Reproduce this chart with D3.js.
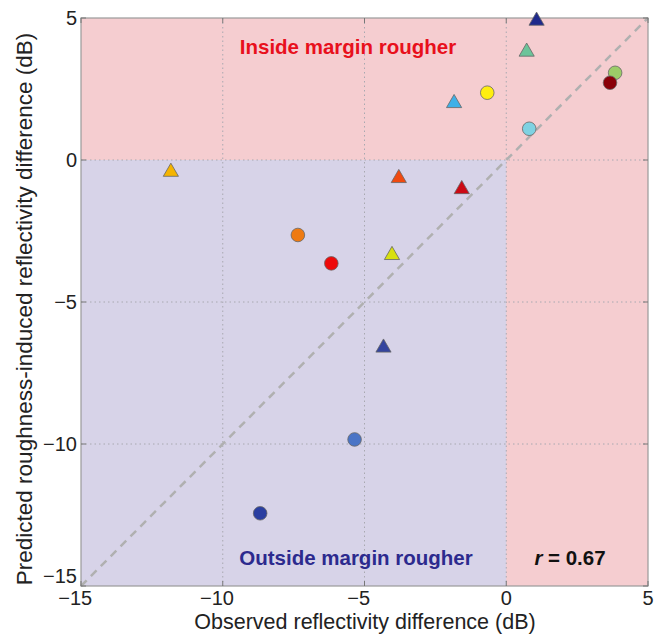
<!DOCTYPE html>
<html><head><meta charset="utf-8">
<script src="https://cdn.jsdelivr.net/npm/d3@7"></script>
<style>
body{margin:0;background:#fff;}
svg text{font-family:"Liberation Sans",Arial,Helvetica,sans-serif;}
</style></head>
<body><svg id="c" width="665" height="634"></svg>
<script>
const xTicks = [-15, -10, -5, 0, 5];
const yTicks = [-15, -10, -5, 0, 5];
const pointX = [-11.83, 1.07, 0.72, -1.84, -0.67, 0.81, 3.84, 3.66, -1.57, -3.79, -4.03, -4.33, -7.35, -6.17, -5.35, -8.68];
const pointY = [-0.42, 4.9, 3.81, 2.0, 2.37, 1.10, 3.07, 2.72, -1.03, -0.64, -3.35, -6.61, -2.64, -3.64, -9.84, -12.44];
const pointShape = ["tri","tri","tri","tri","cir","cir","cir","cir","tri","tri","tri","tri","cir","cir","cir","cir"];
const pointColor = ["#f5b400","#1f2a8c","#6cc49a","#3fb0e8","#ffee10","#7fd2e2","#9ccc68","#8a0008","#cc0a14","#f04a10","#d8e010","#34449e","#ee7a12","#ee0a0a","#4a74c6","#2a3ea0"];

const svg = d3.select("#c");
const L = 81, R = 648, T = 18, B = 586;
const x = d3.scaleLinear().domain([-15, 5]).range([L, R]);
const y = d3.scaleLinear().domain([-15, 5]).range([B, T]);

// background regions
svg.append("rect").attr("x", L).attr("y", T).attr("width", R - L).attr("height", B - T).attr("fill", "#f5cdd0");
svg.append("rect").attr("x", x(-15)).attr("y", y(0)).attr("width", x(0) - x(-15)).attr("height", y(-15) - y(0)).attr("fill", "#d7d3e8");

// grid
const g = svg.append("g");
xTicks.slice(1, -1).forEach(v => {
  g.append("line").attr("x1", x(v)).attr("x2", x(v)).attr("y1", T).attr("y2", B)
    .attr("stroke", "#a8a8b0").attr("stroke-width", 1).attr("stroke-dasharray", "1.5,3");
});
yTicks.slice(1, -1).forEach(v => {
  g.append("line").attr("x1", L).attr("x2", R).attr("y1", y(v)).attr("y2", y(v))
    .attr("stroke", "#a8a8b0").attr("stroke-width", 1).attr("stroke-dasharray", "1.5,3");
});

// diagonal
svg.append("line").attr("x1", x(-15)).attr("y1", y(-15)).attr("x2", x(5)).attr("y2", y(5))
  .attr("stroke", "#b0b0b0").attr("stroke-width", 2.5).attr("stroke-dasharray", "8,6");

// frame
svg.append("rect").attr("x", L).attr("y", T).attr("width", R - L).attr("height", B - T)
  .attr("fill", "none").attr("stroke", "#9a9a9a").attr("stroke-width", 1.2);

// tick marks inward
xTicks.forEach(v => {
  svg.append("line").attr("x1", x(v)).attr("x2", x(v)).attr("y1", B).attr("y2", B - 5).attr("stroke", "#777");
  svg.append("line").attr("x1", x(v)).attr("x2", x(v)).attr("y1", T).attr("y2", T + 5).attr("stroke", "#777");
});
yTicks.forEach(v => {
  svg.append("line").attr("x1", L).attr("x2", L + 5).attr("y1", y(v)).attr("y2", y(v)).attr("stroke", "#777");
  svg.append("line").attr("x1", R).attr("x2", R - 5).attr("y1", y(v)).attr("y2", y(v)).attr("stroke", "#777");
});

const fmt = v => (v < 0 ? "\u2212" + Math.abs(v) : String(v));
// x tick labels: digits centred on the tick, minus hanging to the left
xTicks.forEach(v => {
  const t = svg.append("text").attr("x", x(v)).attr("y", 605).attr("text-anchor", "middle")
    .attr("font-size", 20).attr("fill", "#222").text(String(Math.abs(v)));
  if (v < 0) {
    const w = t.node().getComputedTextLength();
    svg.append("text").attr("x", x(v) - w / 2).attr("y", 605).attr("text-anchor", "end")
      .attr("font-size", 20).attr("fill", "#222").text("\u2212");
  }
});
yTicks.forEach(v => {
  svg.append("text").attr("x", 77).attr("y", v === -15 ? 582.5 : y(v) + 7).attr("text-anchor", "end")
    .attr("font-size", 20).attr("fill", "#222").text(fmt(v));
});

svg.append("text").attr("x", 365).attr("y", 629).attr("text-anchor", "middle")
  .attr("font-size", 21.5).attr("fill", "#222").text("Observed reflectivity difference (dB)");
svg.append("text").attr("transform", `translate(32,309) rotate(-90)`).attr("text-anchor", "middle")
  .attr("font-size", 22.5).attr("fill", "#222").text("Predicted roughness-induced reflectivity difference (dB)");

// region labels
svg.append("text").attr("x", 348).attr("y", 54).attr("text-anchor", "middle").attr("font-weight", "bold")
  .attr("font-size", 20.5).attr("fill", "#e8101c").text("Inside margin rougher");
svg.append("text").attr("x", 356).attr("y", 565).attr("text-anchor", "middle").attr("font-weight", "bold")
  .attr("font-size", 20.5).attr("fill", "#2c2a8e").text("Outside margin rougher");
const rt = svg.append("text").attr("x", 570).attr("y", 565).attr("text-anchor", "middle").attr("font-weight", "bold")
  .attr("font-size", 20.5).attr("fill", "#111");
rt.append("tspan").attr("font-style", "italic").text("r");
rt.append("tspan").text(" = 0.67");

// points
const tri = d3.symbol().type(d3.symbolTriangle).size(100);
pointX.forEach((px, i) => {
  const cx = x(px), cy = y(pointY[i]);
  if (pointShape[i] === "cir") {
    svg.append("circle").attr("cx", cx).attr("cy", cy).attr("r", 6.8)
      .attr("fill", pointColor[i]).attr("stroke", "#666").attr("stroke-width", 0.8);
  } else {
    svg.append("path").attr("d", tri()).attr("transform", `translate(${cx},${cy})`)
      .attr("fill", pointColor[i]).attr("stroke", "#666").attr("stroke-width", 0.8);
  }
});
</script></body></html>
